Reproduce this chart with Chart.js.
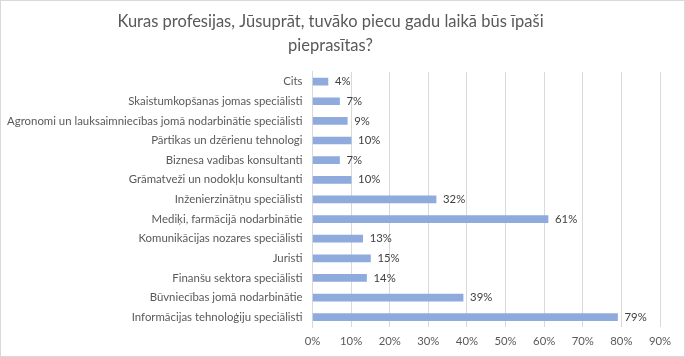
<!DOCTYPE html>
<html>
<head>
<meta charset="utf-8">
<script src="https://cdn.jsdelivr.net/npm/chart.js@4/dist/chart.umd.min.js"></script>
<style>
  html, body { margin: 0; padding: 0; background: #fff; }
  #wrap { position: relative; width: 685px; height: 357px; box-sizing: border-box; border: 1px solid #d9d9d9; }
  canvas { display: block; }
</style>
</head>
<body>
<div id="wrap"><canvas id="c" width="683" height="355"></canvas></div>
<script>
const titleLines = ["Kuras profesijas, Jūsuprāt, tuvāko piecu gadu laikā būs īpaši", "pieprasītas?"];
const categories = [
  "Cits",
  "Skaistumkopšanas jomas speciālisti",
  "Agronomi un lauksaimniecības jomā nodarbinātie speciālisti",
  "Pārtikas un dzērienu tehnologi",
  "Biznesa vadības konsultanti",
  "Grāmatveži un nodokļu konsultanti",
  "Inženierzinātņu speciālisti",
  "Mediķi, farmācijā nodarbinātie",
  "Komunikācijas nozares speciālisti",
  "Juristi",
  "Finanšu sektora speciālisti",
  "Būvniecības jomā nodarbinātie",
  "Informācijas tehnoloģiju speciālisti"
];
const values = [4, 7, 9, 10, 7, 10, 32, 61, 13, 15, 14, 39, 79];
const xTicks = [0, 10, 20, 30, 40, 50, 60, 70, 80, 90];

const FONT = "Lato, 'Liberation Sans', sans-serif";

const dataLabels = {
  id: 'dataLabels',
  afterDatasetsDraw(chart) {
    const ctx = chart.ctx;
    const meta = chart.getDatasetMeta(0);
    ctx.save();
    ctx.font = "11.3px " + FONT;
    ctx.fillStyle = "#404040";
    ctx.textAlign = "left";
    ctx.textBaseline = "middle";
    meta.data.forEach((bar, i) => {
      ctx.fillText(values[i] + "%", bar.x + 7, bar.y);
    });
    ctx.restore();
  }
};

new Chart(document.getElementById('c'), {
  type: 'bar',
  data: {
    labels: categories,
    datasets: [{
      data: values,
      backgroundColor: '#8faadc',
      borderWidth: 0,
      barThickness: 7
    }]
  },
  options: {
    indexAxis: 'y',
    responsive: false,
    animation: false,
    layout: { padding: { left: 0, right: 24, top: 0, bottom: 0 } },
    plugins: {
      legend: { display: false },
      tooltip: { enabled: false },
      title: {
        display: true,
        text: titleLines,
        color: '#595959',
        font: { family: FONT, size: 16.5, weight: 'normal', lineHeight: 1.45 },
        padding: { top: 9, bottom: 14 }
      }
    },
    scales: {
      x: {
        min: 0,
        max: 90,
        afterBuildTicks(scale) { scale.ticks = xTicks.map(v => ({ value: v })); },
        ticks: {
          color: '#595959',
          font: { family: FONT, size: 11.3 },
          padding: 8,
          callback: (v) => v + '%'
        },
        grid: { color: '#d9d9d9', drawTicks: false },
        border: { display: false },
        afterFit(scale) { scale.height = 29; }
      },
      y: {
        ticks: {
          color: '#595959',
          font: { family: FONT, size: 11.4 },
          padding: 10,
          autoSkip: false
        },
        grid: { display: false, drawTicks: false },
        border: { display: true, color: '#d9d9d9' },
        afterFit(scale) { scale.width = 311.5; }
      }
    }
  },
  plugins: [dataLabels]
});
</script>
</body>
</html>
